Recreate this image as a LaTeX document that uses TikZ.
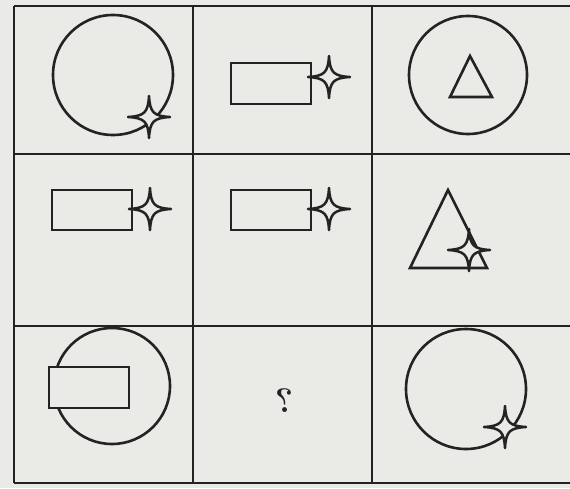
\documentclass[tikz,border=0pt]{standalone}
\usepackage{graphicx}
\definecolor{bg}{RGB}{234,234,231}
\definecolor{ink}{RGB}{35,35,35}
\begin{document}
\begin{tikzpicture}[x=1pt,y=-1pt,
  gridline/.style={line width=2.8pt, draw=ink},
  shp/.style={line width=2.6pt, draw=ink},
  fourstar/.pic={\draw[ink, fill=bg, line width=2.5pt, line join=round]
     (21,0) .. controls (4.5,1) and (1,4.5) .. (0,21)
     .. controls (-1,4.5) and (-4.5,1) .. (-21,0)
     .. controls (-4.5,-1) and (-1,-4.5) .. (0,-21)
     .. controls (1,-4.5) and (4.5,-1) .. cycle;}]
\fill[bg] (0,0) rectangle (570,488);
\useasboundingbox (0,0) rectangle (570,488);
% grid
\draw[gridline] (14,6) -- (570,6);
\draw[gridline] (14,154) -- (570,154);
\draw[gridline] (14,326) -- (570,326);
\draw[gridline] (14,483) -- (570,483);
\draw[gridline] (14,6) -- (14,483);
\draw[gridline] (193,6) -- (193,483);
\draw[gridline] (372,6) -- (372,483);
% row 1
\draw[shp] (113,75) circle (60);
\pic at (149,117) {fourstar};
\draw[shp] (231,63) rectangle (311,104);
\pic at (329,77) {fourstar};
\draw[shp] (468,75) circle (59);
\draw[shp, line join=miter] (470,56) -- (492,97) -- (450,97) -- cycle;
% row 2
\draw[shp] (52,190) rectangle (132,230);
\pic at (150,209) {fourstar};
\draw[shp] (231,190) rectangle (311,230);
\pic at (329,209) {fourstar};
\draw[shp, line join=miter] (448,190) -- (487,268) -- (410,268) -- cycle;
\pic at (469,250) {fourstar};
% row 3
\draw[shp] (112,386) circle (58);
\draw[shp, fill=bg] (49,367) rectangle (129,408);
\node[text=ink, font=\fontsize{34}{34}\selectfont\bfseries, inner sep=0pt] (q) at (284,401) {\reflectbox{?}};
\draw[shp] (466,389) circle (60);
\pic at (505,427) {fourstar};
\end{tikzpicture}
\end{document}
